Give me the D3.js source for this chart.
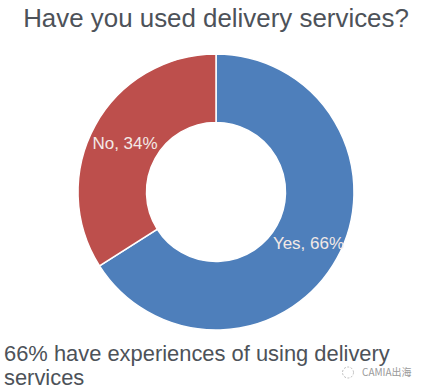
<!DOCTYPE html>
<html>
<head>
<meta charset="utf-8">
<script src="https://cdnjs.cloudflare.com/ajax/libs/d3/7.8.5/d3.min.js"></script>
<style>
  html, body { margin: 0; padding: 0; background: #fff; }
  text { font-family: "Liberation Sans", sans-serif; }
</style>
</head>
<body>
<div id="chart"></div>
<script>
const categories = ["Yes", "No"];
const values = [66, 34];
const colors = ["#4e7fbb", "#bd4f4c"];

const width = 424;
const height = 390;
const cx = 216;
const cy = 192;
const outerRadius = 138;
const innerRadius = 69.5;

const svg = d3.select("#chart")
    .append("svg")
    .attr("width", width)
    .attr("height", height)
    .style("display", "block");

svg.append("text")
    .attr("x", 216)
    .attr("y", 27)
    .attr("text-anchor", "middle")
    .attr("fill", "#4d5259")
    .style("font-size", "25.9px")
    .text("Have you used delivery services?");

const color = d3.scaleOrdinal().domain(categories).range(colors);

const pie = d3.pie().sort(null).value(d => d.value);
const arc = d3.arc().innerRadius(innerRadius).outerRadius(outerRadius);

const pieData = pie(categories.map((c, i) => ({ category: c, value: values[i] })));

const g = svg.append("g")
    .attr("transform", `translate(${cx}, ${cy})`);

g.selectAll("path")
    .data(pieData)
    .enter()
    .append("path")
    .attr("d", arc)
    .attr("fill", d => color(d.data.category))
    .attr("stroke", "white")
    .style("stroke-width", "1.5px");

// labels sit by hand on the ring, same as the source
const labelOffset = { Yes: [92.5, 51], No: [-91, -49] };
g.selectAll("text")
    .data(pieData)
    .enter()
    .append("text")
    .attr("x", d => labelOffset[d.data.category][0])
    .attr("y", d => labelOffset[d.data.category][1])
    .attr("text-anchor", "middle")
    .attr("dy", "0.35em")
    .attr("fill", "#f3e9e6")
    .style("font-size", "17px")
    .text(d => `${d.data.category}, ${d.data.value}%`);

const note = svg.append("g").attr("fill", "#4d5259").style("font-size", "21.9px");
note.append("text").attr("x", 4).attr("y", 361).text("66% have experiences of using delivery");
note.append("text").attr("x", 4).attr("y", 385).text("services");

// watermark
svg.append("text")
    .attr("x", 362)
    .attr("y", 376)
    .attr("fill", "#9a9a9a")
    .style("font-family", "'Noto Sans CJK SC', sans-serif")
    .style("font-size", "10px")
    .text("CAMIA出海");
svg.append("circle")
    .attr("cx", 348)
    .attr("cy", 372.5)
    .attr("r", 5.5)
    .attr("fill", "none")
    .attr("stroke", "#bbb")
    .attr("stroke-dasharray", "2 1.5");
</script>
</body>
</html>
